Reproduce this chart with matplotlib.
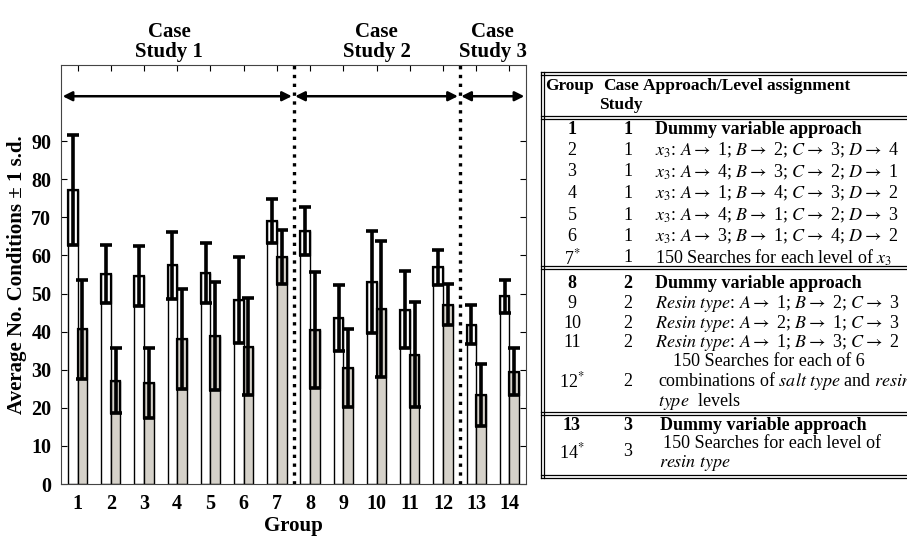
import matplotlib
matplotlib.use("Agg")
import matplotlib.pyplot as plt
from matplotlib.lines import Line2D
import numpy as np

plt.rcParams['font.family'] = ['Liberation Serif', 'DejaVu Serif']
plt.rcParams['mathtext.fontset'] = 'stix'

# bar data
groups = list(range(1, 15))
white_mean = [77.2, 55.1, 54.6, 57.4, 55.4, 48.3, 69.0, 66.4, 43.5, 53.0, 45.8, 56.9, 41.8, 49.3]
white_sd = [14.5, 7.6, 7.9, 8.8, 7.8, 11.4, 5.8, 6.3, 8.7, 13.3, 10.0, 4.6, 5.1, 4.3]
grey_mean = [40.6, 27.1, 26.5, 38.1, 38.8, 36.0, 59.6, 40.4, 30.4, 45.9, 33.9, 47.1, 23.4, 29.5]
grey_sd = [13.0, 8.5, 9.2, 13.1, 14.2, 12.7, 7.1, 15.2, 10.3, 17.9, 13.8, 5.3, 8.2, 6.2]

case_labels = ["Case\nStudy 1", "Case\nStudy 2", "Case\nStudy 3"]
case_spans = [(0.5, 7.5), (7.5, 12.5), (12.5, 14.5)]

# table data
x3_levels = [[1, 2, 3, 4], [4, 3, 2, 1], [1, 4, 3, 2], [4, 1, 2, 3], [3, 1, 4, 2]]
resin_levels = [[1, 2, 3], [2, 1, 3], [1, 3, 2]]

W, H = 907, 537
fig = plt.figure(figsize=(W / 100, H / 100), dpi=100)
ax = fig.add_axes([61 / W, 53 / H, 465 / W, 419 / H])

x = np.array(groups)
bw = 0.29
grey_col = '#d5d1c9'

ax.bar(x - bw / 2, white_mean, bw, color='white', edgecolor='black', linewidth=1.0, zorder=2)
ax.bar(x + bw / 2, grey_mean, bw, color=grey_col, edgecolor='black', linewidth=1.0, zorder=2)
# darker box between mean - sd and mean
ax.bar(x - bw / 2, white_sd, bw, bottom=np.array(white_mean) - np.array(white_sd),
       fill=False, edgecolor='black', linewidth=1.6, zorder=3)
ax.bar(x + bw / 2, grey_sd, bw, bottom=np.array(grey_mean) - np.array(grey_sd),
       fill=False, edgecolor='black', linewidth=1.6, zorder=3)
ax.errorbar(x - bw / 2, white_mean, yerr=white_sd, fmt='none', ecolor='black',
            elinewidth=2.6, capsize=4, capthick=2.6, zorder=4)
ax.errorbar(x + bw / 2, grey_mean, yerr=grey_sd, fmt='none', ecolor='black',
            elinewidth=2.6, capsize=4, capthick=2.6, zorder=4)

for xv in [7.5, 12.5]:
    ax.axvline(xv, color='black', linestyle=':', linewidth=2.4, zorder=5)

for (a, b), lab, cx in zip(case_spans, case_labels, [3.75, 10.0, 13.5]):
    ax.annotate('', xy=(a + 0.05, 101.8), xytext=(b - 0.05, 101.8),
                arrowprops=dict(arrowstyle='<|-|>', color='black', lw=1.8,
                                mutation_scale=14, shrinkA=0, shrinkB=0))
    ax.text(cx, 1.0 + 23 / 419, lab, transform=ax.get_xaxis_transform(), ha='center',
            va='center', fontsize=15, fontweight='bold', linespacing=0.95)

ax.set_xlim(0.5, 14.5)
ax.set_ylim(0, 110)
ax.set_xticks(groups)
ax.set_yticks(range(0, 100, 10))
ax.tick_params(direction='in', top=True, right=True, length=4, labelsize=14.5, pad=7)
for lab in ax.get_xticklabels() + ax.get_yticklabels():
    lab.set_fontweight('bold')
for sp in ax.spines.values():
    sp.set_color('#444444')
ax.set_xlabel('Group', fontsize=15, fontweight='bold', labelpad=2)
ax.set_ylabel('Average No. Conditions \u00b1 1 s.d.', fontsize=15, fontweight='bold', labelpad=3)


# ---- table drawn in pixel coordinates ----
def fx(px):
    return px / W


def fy(py):
    return 1 - py / H


def hline(py, x0=541, x1=907):
    for off in [0, 2.5]:
        fig.add_artist(Line2D([fx(x0), fx(x1)], [fy(py + off), fy(py + off)],
                              transform=fig.transFigure, color='black', lw=0.9))


def cell(px, py, s, ha='center', bold=False, size=13):
    fig.text(fx(px), fy(py), s, ha=ha, va='center', fontsize=size,
             fontweight='bold' if bold else 'normal')


gx, cx_, tx = 572, 628, 655

hline(72)
hline(116)
hline(266)
hline(412)
hline(475)
for xv in [541, 543.5]:
    fig.add_artist(Line2D([fx(xv), fx(xv)], [fy(72), fy(477.5)],
                          transform=fig.transFigure, color='black', lw=0.9))

cell(569, 86, 'Group', bold=True, size=12.5)
cell(621, 86, 'Case', bold=True, size=12.5)
cell(621, 105, 'Study', bold=True, size=12.5)
cell(643, 86, 'Approach/Level assignment', ha='left', bold=True, size=12.5)

ys1 = [129, 150.5, 172, 193.5, 215, 236.5, 258]
cell(gx, ys1[0], '1', bold=True)
cell(cx_, ys1[0], '1', bold=True)
cell(tx, ys1[0], 'Dummy variable approach', ha='left', bold=True)
for i, lv in enumerate(x3_levels):
    y = ys1[i + 1]
    cell(gx, y, str(i + 2))
    cell(cx_, y, '1')
    s = r'$x_3$: ' + '; '.join(r'$%s \rightarrow$ %d' % (k, v) for k, v in zip('ABCD', lv))
    cell(tx, y, s, ha='left')
cell(gx, ys1[6], r'7$^{*}$')
cell(cx_, ys1[6], '1')
cell(tx, ys1[6], r'150 Searches for each level of $x_3$', ha='left')

ys2 = [284, 303.5, 323, 342.5, 362, 381.5, 401]
cell(gx, ys2[0], '8', bold=True)
cell(cx_, ys2[0], '2', bold=True)
cell(tx, ys2[0], 'Dummy variable approach', ha='left', bold=True)
for i, lv in enumerate(resin_levels):
    y = ys2[i + 1]
    cell(gx, y, str(i + 9))
    cell(cx_, y, '2')
    s = r'$\mathit{Resin\ type}$: ' + '; '.join(r'$%s \rightarrow$ %d' % (k, v) for k, v in zip('ABC', lv))
    cell(tx, y, s, ha='left')
cell(673, ys2[4], '150 Searches for each of 6', ha='left')
cell(gx, ys2[5], r'12$^{*}$')
cell(cx_, ys2[5], '2')
cell(658, ys2[5], r'combinations of $\mathit{salt\ type}$ and $\mathit{resin}$', ha='left')
cell(658, ys2[6], r'$\mathit{type}$  levels', ha='left')

cell(gx, 425, '13', bold=True)
cell(cx_, 425, '3', bold=True)
cell(660, 425, 'Dummy variable approach', ha='left', bold=True)
cell(663, 444, '150 Searches for each level of', ha='left')
cell(gx, 452, r'14$^{*}$')
cell(cx_, 452, '3')
cell(659, 463, r'$\mathit{resin\ type}$', ha='left')

fig.savefig('out.png', dpi=100)
